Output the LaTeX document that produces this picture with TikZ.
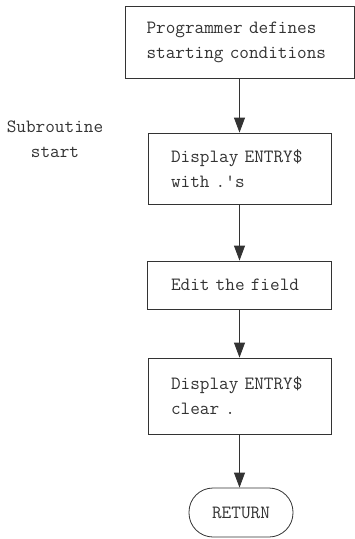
\documentclass[tikz,border=0pt]{standalone}
\usetikzlibrary{arrows.meta}
\begin{document}
\begin{tikzpicture}[x=1pt,y=-1pt,
    every node/.style={font=\fontsize{18.7}{25}\selectfont\ttfamily,text=black!80},
    flowbox/.style={draw=black!80,line width=0.8pt,align=left,inner sep=0pt},
    flowarrow/.style={draw=black!80,line width=0.8pt,-{Triangle[length=15pt,width=11pt]}}]
   \useasboundingbox (0,0) rectangle (355,539);
   \node[flowbox,text width=186pt,minimum width=229pt,minimum height=72pt] (defines) at (239.5,42) {Programmer defines\\starting conditions};
   \node[align=center] (substart) at (55,139) {Subroutine\\start};
   \node[flowbox,text width=137pt,minimum width=183pt,minimum height=71pt] (showdots) at (239.5,168.5) {Display ENTRY\$\\with .'s};
   \node[flowbox,text width=137pt,minimum width=184pt,minimum height=48pt] (editfield) at (239.5,285) {Edit the field};
   \node[flowbox,text width=137pt,minimum width=183pt,minimum height=76pt] (cleardots) at (239.5,396) {Display ENTRY\$\\clear .};
   \node[draw=black!80,line width=0.8pt,rounded corners=24pt,minimum width=104pt,minimum height=49pt,inner sep=0pt] (return) at (241,512.5) {RETURN};
   \draw[flowarrow] (defines.south) -- (showdots.north);
   \draw[flowarrow] (showdots.south) -- (editfield.north);
   \draw[flowarrow] (editfield.south) -- (cleardots.north);
   \draw[flowarrow] (cleardots.south) -- (return.north -| cleardots.south);
\end{tikzpicture}
\end{document}
